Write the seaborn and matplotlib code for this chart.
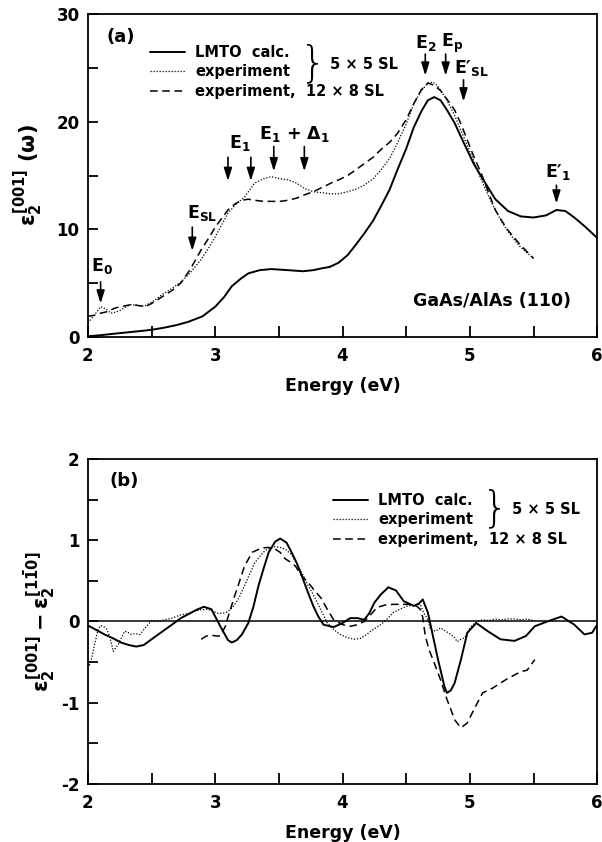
"""GaAs/AlAs (110) superlattice: eps2 spectra and anisotropy."""
import matplotlib.pyplot as plt
import pandas as pd
import seaborn as sns
from matplotlib.ticker import MultipleLocator

# ---- panel (a): eps2[001](w) ----
energy_lmto_a = [2.0, 2.1, 2.2, 2.3, 2.4, 2.5, 2.6, 2.7, 2.79, 2.9, 3.0, 3.07, 3.13, 3.2, 3.26,
                 3.35, 3.44, 3.57, 3.69, 3.77, 3.85, 3.9, 3.97, 4.04, 4.1, 4.17, 4.24, 4.3, 4.37,
                 4.43, 4.5, 4.56, 4.62, 4.67, 4.72, 4.77, 4.82, 4.88, 4.93, 5.03, 5.09, 5.2, 5.3,
                 5.4, 5.5, 5.6, 5.68, 5.75, 5.82, 5.9, 6.0]
eps_lmto_a = [0.05, 0.15, 0.28, 0.4, 0.52, 0.65, 0.85, 1.1, 1.4, 1.9, 2.8, 3.7, 4.7, 5.4, 5.9,
              6.2, 6.3, 6.2, 6.1, 6.2, 6.4, 6.5, 6.9, 7.6, 8.5, 9.6, 10.8, 12.1, 13.7,
              15.5, 17.5, 19.5, 21.0, 22.0, 22.3, 22.0, 21.1, 19.9, 18.6, 16.1, 14.9, 12.8, 11.7,
              11.2, 11.1, 11.3, 11.8, 11.7, 11.1, 10.3, 9.2]

energy_exp55_a = [2.0, 2.05, 2.1, 2.14, 2.18, 2.22, 2.26, 2.3, 2.34, 2.4, 2.45, 2.5, 2.58, 2.66,
                  2.73, 2.8, 2.89, 2.95, 3.0, 3.05, 3.1, 3.16, 3.23, 3.31, 3.38, 3.44, 3.51, 3.57,
                  3.64, 3.7, 3.77, 3.84, 3.91, 3.97, 4.04, 4.1, 4.17, 4.24, 4.3, 4.37, 4.43, 4.5,
                  4.56, 4.62, 4.67, 4.71, 4.75, 4.82, 4.88, 4.93, 4.98, 5.03, 5.09, 5.15, 5.2,
                  5.25, 5.3, 5.35, 5.4, 5.45, 5.5]
eps_exp55_a = [1.3, 2.0, 2.8, 2.6, 2.2, 2.3, 2.5, 2.8, 3.0, 2.9, 2.9, 3.2, 3.9, 4.5,
               5.1, 5.9, 7.2, 8.3, 9.3, 10.4, 11.5, 12.3, 13.0, 14.3, 14.7, 14.9, 14.7, 14.6,
               14.3, 13.8, 13.5, 13.4, 13.3, 13.3, 13.5, 13.7, 14.1, 14.7, 15.5, 16.6, 18.0, 19.8,
               21.7, 22.9, 23.6, 23.7, 23.3, 22.0, 20.6, 19.2, 17.8, 16.4, 14.6, 13.0, 11.8,
               10.7, 9.8, 9.0, 8.3, 7.8, 7.3]

energy_exp128_a = [2.0, 2.05, 2.1, 2.14, 2.18, 2.22, 2.26, 2.3, 2.34, 2.4, 2.45, 2.5, 2.58, 2.66,
                   2.73, 2.8, 2.89, 2.95, 3.0, 3.05, 3.1, 3.16, 3.21, 3.26, 3.31, 3.38, 3.44, 3.51,
                   3.57, 3.64, 3.7, 3.77, 3.84, 3.91, 3.97, 4.04, 4.1, 4.17, 4.24, 4.3, 4.37, 4.43,
                   4.5, 4.56, 4.62, 4.67, 4.72, 4.77, 4.82, 4.88, 4.93, 4.98, 5.03, 5.09, 5.15,
                   5.2, 5.25, 5.3, 5.35, 5.4, 5.45, 5.5]
eps_exp128_a = [1.9, 2.0, 2.2, 2.3, 2.5, 2.7, 2.8, 2.9, 3.0, 2.9, 2.8, 3.1, 3.7, 4.3,
                5.0, 6.2, 8.1, 9.2, 10.2, 11.0, 11.8, 12.4, 12.7, 12.8, 12.7, 12.6, 12.6, 12.6,
                12.7, 12.9, 13.2, 13.5, 13.9, 14.3, 14.6, 15.0, 15.5, 16.1, 16.7, 17.4, 18.1, 18.9,
                20.2, 21.7, 23.0, 23.6, 23.4, 22.9, 22.1, 21.1, 19.8, 18.3, 16.8, 15.2, 13.3,
                11.8, 10.8, 9.9, 9.2, 8.5, 7.9, 7.3]

# ---- panel (b): eps2[001] - eps2[1-10] ----
energy_lmto_b = [2.0, 2.06, 2.13, 2.2, 2.26, 2.32, 2.38, 2.44, 2.5, 2.58, 2.66, 2.73, 2.79, 2.85,
                 2.91, 2.97, 3.04, 3.1, 3.13, 3.17, 3.21, 3.26, 3.3, 3.34, 3.38, 3.42, 3.47, 3.51,
                 3.56, 3.6, 3.64, 3.68, 3.73, 3.77, 3.81, 3.85, 3.93, 4.0, 4.06, 4.12, 4.17, 4.21,
                 4.25, 4.3, 4.36, 4.42, 4.48, 4.56, 4.6, 4.63, 4.67, 4.71, 4.75, 4.8, 4.82, 4.85,
                 4.88, 4.93, 4.98, 5.05, 5.14, 5.24, 5.35, 5.44, 5.51, 5.61, 5.72, 5.82, 5.9,
                 5.96, 6.0]
diff_lmto_b = [-0.05, -0.1, -0.16, -0.21, -0.26, -0.29, -0.31, -0.29, -0.22, -0.13, -0.04, 0.04,
               0.09, 0.14, 0.18, 0.15, -0.06, -0.23, -0.26, -0.23, -0.16, -0.02, 0.18, 0.44, 0.65,
               0.85, 0.98, 1.02, 0.97, 0.85, 0.72, 0.56, 0.35, 0.19, 0.06, -0.04, -0.07, -0.02,
               0.04, 0.04, 0.02, 0.1, 0.23, 0.33, 0.42, 0.38, 0.25, 0.19, 0.22, 0.27, 0.11, -0.18,
               -0.47, -0.8, -0.88, -0.85, -0.76, -0.47, -0.14, -0.02, -0.12, -0.22, -0.24, -0.18,
               -0.06, 0.0, 0.06, -0.04, -0.16, -0.14, -0.04]

energy_exp55_b = [2.0, 2.01, 2.03, 2.05, 2.08, 2.1, 2.13, 2.15, 2.17, 2.2, 2.22, 2.24, 2.27, 2.29,
                  2.32, 2.34, 2.37, 2.41, 2.44, 2.46, 2.5, 2.55, 2.6, 2.66, 2.73, 2.8, 2.87, 2.94,
                  3.02, 3.06, 3.1, 3.15, 3.19, 3.23, 3.27, 3.31, 3.35, 3.39, 3.43, 3.47, 3.51,
                  3.55, 3.6, 3.65, 3.69, 3.73, 3.78, 3.83, 3.88, 3.93, 3.98, 4.04, 4.09, 4.14,
                  4.19, 4.24, 4.3, 4.35, 4.4, 4.45, 4.51, 4.56, 4.61, 4.64, 4.67, 4.69, 4.73,
                  4.77, 4.81, 4.85, 4.88, 4.9, 4.93, 4.96, 5.01, 5.06, 5.1, 5.15, 5.2, 5.25, 5.3,
                  5.35, 5.4, 5.45, 5.5]
diff_exp55_b = [-0.45, -0.55, -0.45, -0.3, -0.1, -0.05, -0.07, -0.1, -0.18, -0.37, -0.32, -0.28,
                -0.18, -0.12, -0.14, -0.16, -0.15, -0.16, -0.1, -0.06, 0.01, 0.0, 0.02, 0.04,
                0.08, 0.1, 0.14, 0.15, 0.1, 0.1, 0.12, 0.2, 0.3, 0.44, 0.58, 0.72, 0.8, 0.87,
                0.9, 0.92, 0.91, 0.89, 0.82, 0.68, 0.57, 0.44, 0.3, 0.14, -0.02, -0.1, -0.16,
                -0.2, -0.22, -0.21, -0.16, -0.1, -0.04, 0.03, 0.11, 0.15, 0.19, 0.2, 0.21, 0.1,
                0.02, -0.1, -0.12, -0.08, -0.12, -0.16, -0.2, -0.25, -0.22, -0.2, -0.06, 0.0,
                0.02, 0.01, 0.03, 0.02, 0.03, 0.03, 0.02, 0.03, 0.01]

energy_exp128_b = [2.89, 2.93, 2.97, 3.01, 3.04, 3.06, 3.08, 3.1, 3.12, 3.15, 3.18, 3.23, 3.29,
                   3.36, 3.41, 3.46, 3.51, 3.55, 3.6, 3.63, 3.68, 3.73, 3.78, 3.83, 3.88, 3.93,
                   4.0, 4.06, 4.12, 4.17, 4.22, 4.27, 4.33, 4.4, 4.47, 4.53, 4.58, 4.61, 4.63,
                   4.65, 4.68, 4.72, 4.77, 4.82, 4.85, 4.88, 4.93, 4.98, 5.03, 5.1, 5.18, 5.24,
                   5.3, 5.35, 5.4, 5.45, 5.51]
diff_exp128_b = [-0.22, -0.18, -0.17, -0.18, -0.18, -0.12, -0.06, 0.05, 0.15, 0.3, 0.44, 0.68,
                 0.85, 0.9, 0.91, 0.9, 0.85, 0.77, 0.72, 0.68, 0.56, 0.48, 0.38, 0.29, 0.15, 0.02,
                 -0.04, -0.06, -0.04, 0.0, 0.08, 0.17, 0.2, 0.21, 0.21, 0.21, 0.19, 0.15, 0.05,
                 -0.18, -0.35, -0.51, -0.72, -0.96, -1.08, -1.21, -1.31, -1.25, -1.09, -0.88,
                 -0.82, -0.76, -0.7, -0.66, -0.62, -0.6, -0.47]

series_labels = ["LMTO  calc.", "experiment", "experiment,  12 × 8 SL"]
x_ticks = [2, 3, 4, 5, 6]


def setup_style():
    sns.set_theme(style="ticks")
    plt.rcParams["font.family"] = ["DejaVu Sans"]
    plt.rcParams["font.weight"] = "bold"
    plt.rcParams["mathtext.fontset"] = "custom"
    plt.rcParams["mathtext.rm"] = "DejaVu Sans:bold"
    plt.rcParams["mathtext.it"] = "DejaVu Sans:bold"
    plt.rcParams["mathtext.bf"] = "DejaVu Sans:bold"
    plt.rcParams["axes.unicode_minus"] = False
    for key in ["text.color", "axes.labelcolor", "xtick.color", "ytick.color",
                "axes.edgecolor"]:
        plt.rcParams[key] = "black"


STYLES = [("-", 1.4), ((0, (1, 1.4)), 0.9), ((0, (5, 3)), 1.1)]


def draw_curves(ax, curves):
    for (e, v), label, (ls, lw) in zip(curves, series_labels, STYLES):
        d = pd.DataFrame({"energy": e, "value": v})
        sns.lineplot(data=d, x="energy", y="value", ax=ax, color="black", linestyle=ls,
                     linewidth=lw, label=label, estimator=None, sort=False)


def style_axes(ax, ymajor, yminor):
    ax.set_xlim(2, 6)
    ax.xaxis.set_major_locator(MultipleLocator(1))
    ax.xaxis.set_minor_locator(MultipleLocator(0.5))
    ax.yaxis.set_major_locator(MultipleLocator(ymajor))
    ax.yaxis.set_minor_locator(MultipleLocator(yminor))
    ax.tick_params(axis="x", which="both", direction="in", length=8, width=1.3,
                   labelsize=12, pad=7, colors="black")
    ax.tick_params(axis="y", which="both", direction="in", length=7, width=1.3,
                   labelsize=12, pad=6, colors="black")
    for s in ax.spines.values():
        s.set_linewidth(1.3)
        s.set_color("black")
    ax.set_xlabel("Energy (eV)", fontsize=12.5, fontweight="bold", labelpad=9, color="black")


def arrow(ax, x, y0, y1):
    ax.annotate("", xy=(x, y1), xytext=(x, y0),
                arrowprops=dict(arrowstyle="-|>,head_length=0.7,head_width=0.22",
                                color="black", lw=1.2, shrinkA=0, shrinkB=0,
                                mutation_scale=11))


def legend(ax, anchor):
    leg = ax.legend(loc="upper left", bbox_to_anchor=anchor, frameon=False, fontsize=10.5,
                    handlelength=2.4, handletextpad=0.7, labelspacing=0.3, borderaxespad=0,
                    borderpad=0)
    for t in leg.get_texts():
        t.set_fontweight("bold")
        t.set_color("black")


setup_style()
fig = plt.figure(figsize=(6.02, 8.42), dpi=100)
ax1 = fig.add_axes([0.146, 0.600, 0.846, 0.383])
ax2 = fig.add_axes([0.146, 0.069, 0.846, 0.386])

# panel (a)
draw_curves(ax1, [(energy_lmto_a, eps_lmto_a), (energy_exp55_a, eps_exp55_a),
                  (energy_exp128_a, eps_exp128_a)])
style_axes(ax1, 10, 5)
ax1.set_ylim(0, 30)
ax1.set_ylabel(r"$\varepsilon_2^{[001]}$ (ω)", fontsize=15, fontweight="bold", labelpad=8,
               color="black")
legend(ax1, (0.122, 0.905))
ax1.text(3.77, 25.4, "}", fontsize=30, fontweight="light", ha="center", va="center",
         family="DejaVu Sans")
ax1.text(3.9, 25.3, "5 × 5 SL", fontsize=10.5, fontweight="bold", va="center")
ax1.text(2.15, 27.9, "(a)", fontsize=13, fontweight="bold", va="center")
ax1.text(4.55, 3.3, "GaAs/AlAs (110)", fontsize=12.5, fontweight="bold", va="center")

lab_kw = dict(fontsize=12.5, ha="center", va="center", fontweight="bold", color="black")
ax1.text(2.11, 6.6, r"E$_0$", **lab_kw)
arrow(ax1, 2.10, 5.1, 3.1)
ax1.text(2.9, 11.5, r"E$_{\mathrm{SL}}$", **lab_kw)
arrow(ax1, 2.82, 10.2, 8.0)
ax1.text(3.19, 18.0, r"E$_1$", **lab_kw)
arrow(ax1, 3.10, 16.7, 14.5)
arrow(ax1, 3.28, 16.7, 14.5)
ax1.text(3.62, 18.9, r"E$_1$ + $\Delta_1$", **lab_kw)
arrow(ax1, 3.46, 17.7, 15.4)
arrow(ax1, 3.70, 17.7, 15.4)
ax1.text(4.65, 27.3, r"E$_2$", **lab_kw)
arrow(ax1, 4.65, 26.3, 24.3)
ax1.text(4.86, 27.3, r"E$_\mathrm{p}$", **lab_kw)
arrow(ax1, 4.81, 26.3, 24.3)
ax1.text(5.01, 25.0, "E′$_{\\mathrm{SL}}$", **lab_kw)
arrow(ax1, 4.95, 23.9, 21.9)
ax1.text(5.69, 15.3, "E′$_1$", **lab_kw)
arrow(ax1, 5.68, 14.1, 12.4)

# panel (b)
ax2.axhline(0, color="black", lw=1.1)
draw_curves(ax2, [(energy_lmto_b, diff_lmto_b), (energy_exp55_b, diff_exp55_b),
                  (energy_exp128_b, diff_exp128_b)])
style_axes(ax2, 1, 0.5)
ax2.set_ylim(-2, 2)
ax2.set_ylabel(r"$\varepsilon_2^{[001]} - \varepsilon_2^{[1\bar{1}0]}$", fontsize=15,
               fontweight="bold", labelpad=2, color="black")
legend(ax2, (0.481, 0.895))
ax2.text(5.2, 1.38, "}", fontsize=30, fontweight="light", ha="center", va="center",
         family="DejaVu Sans")
ax2.text(5.33, 1.38, "5 × 5 SL", fontsize=10.5, fontweight="bold", va="center")
ax2.text(2.17, 1.73, "(b)", fontsize=13, fontweight="bold", va="center")

for ax in (ax1, ax2):
    ax.set_xticks(x_ticks, [str(t) for t in x_ticks])

fig.savefig("out.png", dpi=100)
plt.close(fig)
